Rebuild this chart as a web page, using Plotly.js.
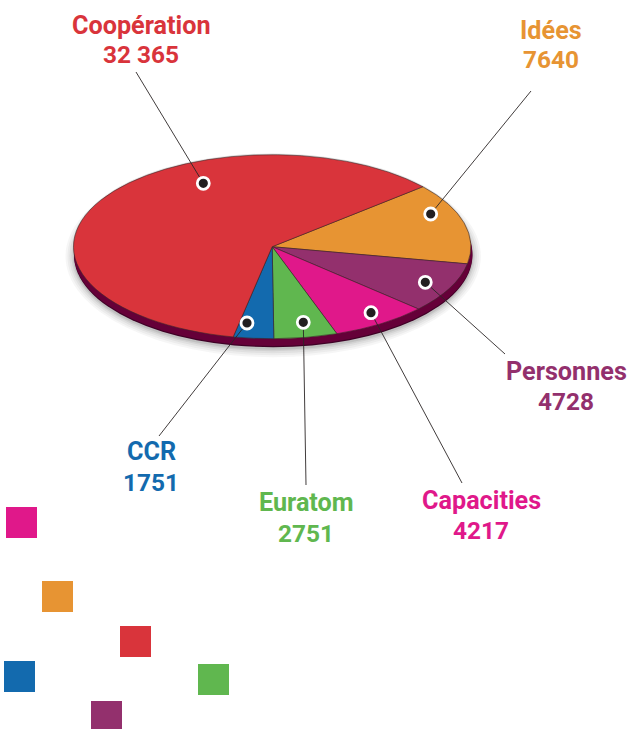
<!DOCTYPE html>
<html>
<head>
<meta charset="utf-8">
<script src="https://cdn.plot.ly/plotly-3.0.1.min.js"></script>
<style>html,body{margin:0;padding:0;background:#fff;overflow:hidden}</style>
</head>
<body>
<div id="chart" style="width:627px;height:729px"></div>
<script>
// Data, in drawing order (clockwise from the Coopération / Idées boundary)
const categories = ["Idées", "Personnes", "Capacities", "Euratom", "CCR", "Coopération"];
const values = [7640, 4728, 4217, 2751, 1751, 32365];
const valueLabels = ["7640", "4728", "4217", "2751", "1751", "32 365"];
const colors = ["#e79433", "#93306d", "#e0188a", "#60b74f", "#136aae", "#d9343b"];

// Layout (pixels in the 627x729 page)
const W = 627, H = 729;
const cx = 272.2, cy = 246.7, rx = 198.7, ry = 92;
const rotationDeg = 49.3;
const rimDepth = 8.5;
const labelX = [551, 566, 481, 306, 151, 141];
const nameY = [30, 371, 500, 502, 451, 25];
const valueY = [59, 401, 530, 533, 482, 54];
const dotX = [430.7, 425.3, 371, 303.3, 247, 203.3];
const dotY = [214, 282.3, 312.7, 322.3, 323, 183.3];
const leadX = [531, 505, 462, 306, 159, 136];
const leadY = [91, 354, 483, 485, 436, 72];
const squareX = [42, 91, 6, 198, 4, 120];
const squareY = [581, 701, 507, 664, 661, 626];
const squareSize = 31;

const px = x => x / W, py = y => 1 - y / H;

const shapes = [];
function ellipse(cxp, cyp, a, b, fill, opacity) {
  shapes.push({type: "circle", xref: "paper", yref: "paper", layer: "below",
    x0: px(cxp - a), x1: px(cxp + a), y0: py(cyp + b), y1: py(cyp - b),
    fillcolor: fill, opacity: opacity, line: {width: 0}});
}
// soft shadow, then the dark rim
[[9, 0.05], [7, 0.06], [5, 0.08], [3, 0.1], [1.5, 0.14]].forEach(([g, o]) =>
  ellipse(cx + 1, cy + rimDepth + 1, rx + g, ry + g, "#555555", o));
ellipse(cx, cy - 0.6, rx + 0.5, ry + 0.6, "#aaaaaa", 0.35);
ellipse(cx + 1, cy + rimDepth, rx + 0.5, ry, "#3f0026", 1);
ellipse(cx + 1, cy + rimDepth - 1.2, rx + 0.5, ry, "#650038", 1);

// leader lines and dots
categories.forEach((c, i) => {
  shapes.push({type: "line", xref: "paper", yref: "paper", layer: "above",
    x0: px(dotX[i]), y0: py(dotY[i]), x1: px(leadX[i]), y1: py(leadY[i]),
    line: {color: "#2b2626", width: 0.9}});
});
categories.forEach((c, i) => {
  shapes.push({type: "circle", xref: "paper", yref: "paper", layer: "above",
    x0: px(dotX[i] - 6), x1: px(dotX[i] + 6), y0: py(dotY[i] + 6), y1: py(dotY[i] - 6),
    fillcolor: "#231f20", line: {color: "#ffffff", width: 2.8}});
  shapes.push({type: "rect", xref: "paper", yref: "paper", layer: "above",
    x0: px(squareX[i]), x1: px(squareX[i] + squareSize),
    y0: py(squareY[i] + squareSize), y1: py(squareY[i]),
    fillcolor: colors[i], line: {width: 0}});
});

const annotations = [];
const labelFont = (c, s) => ({family: "Roboto, Arial, sans-serif", size: s, color: c, weight: 700});
categories.forEach((c, i) => {
  [[c, nameY[i], 25.2], [valueLabels[i], valueY[i], 24.4]].forEach(([t, y, s]) => {
    annotations.push({text: "<b>" + t + "</b>", xref: "paper", yref: "paper",
      x: px(labelX[i]), y: py(y), xanchor: "center", yanchor: "middle",
      showarrow: false, font: labelFont(colors[i], s)});
  });
});

const trace = {
  type: "pie", labels: categories, values: values, sort: false,
  direction: "clockwise", rotation: rotationDeg,
  marker: {colors: colors, line: {color: "#3b2a2a", width: 0.8}},
  textinfo: "none", hoverinfo: "label+value",
  domain: {x: [px(cx - rx), px(cx + rx)], y: [py(cy + rx), py(cy - rx)]}
};

const layout = {
  width: W, height: H, margin: {l: 0, r: 0, t: 0, b: 0},
  paper_bgcolor: "#ffffff", plot_bgcolor: "#ffffff",
  showlegend: false, shapes: shapes, annotations: annotations,
  xaxis: {visible: false}, yaxis: {visible: false}
};

Plotly.newPlot("chart", [trace], layout, {displayModeBar: false, staticPlot: true}).then(gd => {
  // tilt the pie: squash it vertically around its centre to give the perspective ellipse
  const g = gd.querySelector(".pielayer");
  if (g) g.setAttribute("transform",
    `translate(0,${cy}) scale(1,${ry / rx}) translate(0,${-cy})`);
});
</script>
</body>
</html>
